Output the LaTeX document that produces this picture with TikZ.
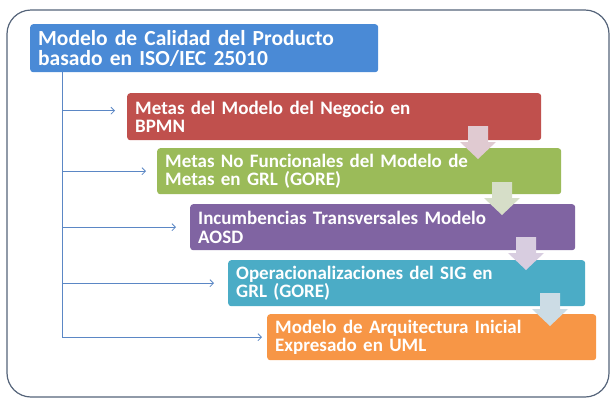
\documentclass[tikz,border=0pt]{standalone}
\usepackage{fontspec}
\setmainfont{Carlito}
\usepackage{tikz}
\usetikzlibrary{calc,arrows,arrows.meta}
\definecolor{isoblue}{HTML}{4A8AD6}
\definecolor{bpmnred}{HTML}{C0504D}
\definecolor{grlgreen}{HTML}{9BBB59}
\definecolor{aosdpurple}{HTML}{8064A2}
\definecolor{sigteal}{HTML}{4BACC6}
\definecolor{umlorange}{HTML}{F79646}
\definecolor{linkblue}{HTML}{5B87C5}
\definecolor{framegray}{HTML}{55647A}
\definecolor{downpink}{HTML}{E0CAD1}
\definecolor{downsage}{HTML}{D6DEC8}
\definecolor{downlilac}{HTML}{D8CDE0}
\definecolor{downice}{HTML}{CCDCE5}
\newcommand{\flowdown}[3]{\fill[#3] (#1-10,#2) -- (#1+10,#2) -- (#1+10,#2+16) -- (#1+18,#2+16) -- (#1,#2+33) -- (#1-18,#2+16) -- (#1-10,#2+16) -- cycle;}

\begin{document}
\begin{tikzpicture}[x=1pt,y=-1pt]
						\tikzstyle{stagebox}=[rectangle, rounded corners=3pt, anchor=north west, text=white, align=left, inner xsep=8pt, inner ysep=0pt, font={\fontsize{19}{18.5}\selectfont\bfseries}]
						\tikzstyle{link}=[draw=linkblue, line width=0.8pt, -{Straight Barb[length=3.5pt,width=7pt]}]
						\useasboundingbox (0,0) rectangle (611,400);
						\draw[framegray, line width=1.2pt, rounded corners=24pt] (7,10) rectangle (609,397);
						\node[stagebox, fill=isoblue, text width=332pt, minimum height=48pt, font={\fontsize{21.5}{19.5}\selectfont\bfseries}] (iso) at (30,24) {Modelo de Calidad del Producto\\basado en ISO/IEC 25010};
						\node[stagebox, fill=bpmnred, text width=398pt, minimum height=47pt] (bpmn) at (127,93) {Metas del Modelo del Negocio en\\BPMN};
						\node[stagebox, fill=grlgreen, text width=388pt, minimum height=46pt] (grl) at (157,148) {Metas No Funcionales del Modelo de\\Metas en GRL (GORE)};
						\node[stagebox, fill=aosdpurple, text width=369pt, minimum height=46pt] (aosd) at (190,204) {Incumbencias Transversales Modelo\\AOSD};
						\node[stagebox, fill=sigteal, text width=341pt, minimum height=46pt] (sig) at (228,260) {Operacionalizaciones del SIG en\\GRL (GORE)};
						\node[stagebox, fill=umlorange, text width=313pt, minimum height=46pt] (uml) at (267,314) {Modelo de Arquitectura Inicial\\Expresado en UML};
						\flowdown{478}{126}{downpink}
						\flowdown{502}{182}{downsage}
						\flowdown{526}{237}{downlilac}
						\flowdown{550}{293}{downice}
						\coordinate (trunk) at (62,0);
						\draw[link] (trunk |- iso.south) |- ([xshift=-5pt]uml.west);
						\draw[link] ([yshift=6pt]trunk |- bpmn.west) -- ([xshift=-12pt,yshift=6pt]bpmn.west);
						\draw[link] (trunk |- grl.west) -- ([xshift=-11pt]grl.west);
						\draw[link] (trunk |- aosd.west) -- ([xshift=-14pt]aosd.west);
						\draw[link] (trunk |- sig.west) -- ([xshift=-14pt]sig.west);
					\end{tikzpicture}
\end{document}
